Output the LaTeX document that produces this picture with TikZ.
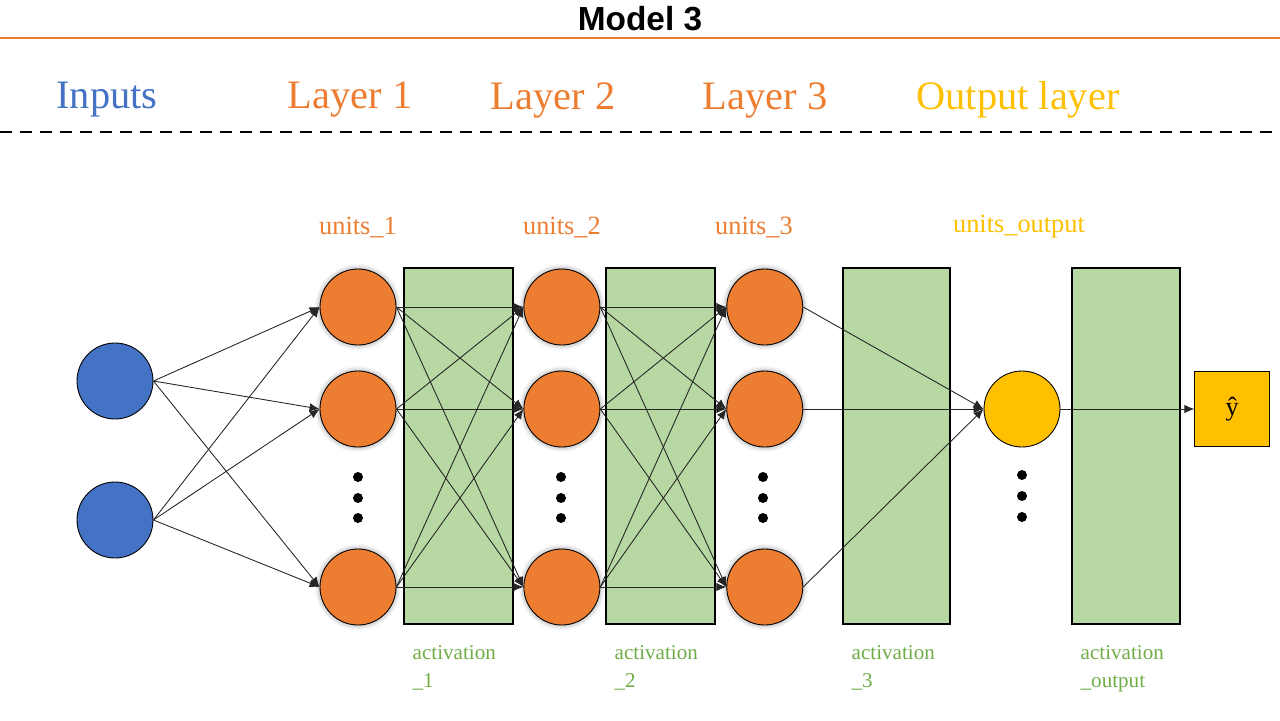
\documentclass[tikz,border=0pt]{standalone}
\usepackage{fontspec}
\setmainfont{Liberation Serif}
\newfontfamily\titlefont{Liberation Sans}
\usetikzlibrary{positioning, arrows.meta, shadows.blur, backgrounds}

\definecolor{inblue}{HTML}{4472C4}
\definecolor{layorange}{HTML}{ED7D31}
\definecolor{outgold}{HTML}{FFC000}
\definecolor{actgreen}{HTML}{B7D7A3}
\definecolor{txtgreen}{HTML}{70AD47}

\tikzset{%
  neuron/.style  = {draw, circle, minimum size=1.52cm, inner sep=0pt, line width=0.5pt},
  inp/.style     = {neuron, fill=inblue},
  hidden/.style  = {neuron, fill=layorange, blur shadow={shadow xshift=0pt,
      shadow yshift=0pt, shadow blur radius=3pt, shadow opacity=45}},
  outn/.style    = {neuron, fill=outgold},
  actbox/.style  = {draw, rectangle, line width=0.6pt, fill=actgreen,
      minimum height=7.12cm, minimum width=2.18cm},
  yhat/.style    = {draw, rectangle, fill=outgold, minimum size=1.5cm,
      font=\fontsize{15}{18}\selectfont},
  dot/.style     = {circle, fill=black, minimum size=0.2cm, inner sep=0pt},
  header/.style  = {font=\fontsize{23}{28}\selectfont},
  unitlbl/.style = {font=\fontsize{15}{18}\selectfont},
  actlbl/.style  = {font=\fontsize{12}{16}\selectfont, text=txtgreen, align=left}
}
\tikzstyle{arrow} = [draw, line width=0.5pt, black!85, -{Latex[length=2mm, width=1.7mm]}]

\begin{document}
\begin{tikzpicture}

\useasboundingbox (0,0) rectangle (25.6,-14.4);

% title and rules
\node [font=\titlefont\bfseries\fontsize{19}{22}\selectfont] (title) at (12.8,-0.38) {Model 3};
\draw [layorange, line width=1.1pt] (0,-0.76) -- (25.6,-0.76);
\draw [black, line width=1.7pt, dash pattern=on 0.24cm off 0.16cm] (0,-2.64) -- (25.6,-2.64);

\node [header, text=inblue] (h_in) at (2.14,-2.0) {Inputs};
\node [header, text=layorange] (h_l1) at (7.0,-2.0) {Layer 1};
\node [header, text=layorange] (h_l2) at (11.06,-2.0) {Layer 2};
\node [header, text=layorange] (h_l3) at (15.3,-2.0) {Layer 3};
\node [header, text=outgold] (h_out) at (20.36,-2.0) {Output layer};

% neurons
\node [inp] (x_1) at (2.3,-7.62) {};
\node [inp] (x_2) at (2.3,-10.4) {};

\node [hidden] (l1_a) at (7.16,-6.14) {};
\node [hidden] (l1_b) at (7.16,-8.18) {};
\node [hidden] (l1_c) at (7.16,-11.74) {};

\node [hidden, right=2.54cm of l1_a] (l2_a) {};
\node [hidden, right=2.54cm of l1_b] (l2_b) {};
\node [hidden, right=2.54cm of l1_c] (l2_c) {};

\node [hidden, right=2.52cm of l2_a] (l3_a) {};
\node [hidden, right=2.52cm of l2_b] (l3_b) {};
\node [hidden, right=2.52cm of l2_c] (l3_c) {};

\node [outn] (out) at (20.44,-8.18) {};
\node [yhat, right=2.68cm of out] (y) {ŷ};

\node [dot] (d1_a) at (7.16,-9.54) {};
\node [dot] (d1_b) at (7.16,-9.96) {};
\node [dot] (d1_c) at (7.16,-10.36) {};
\node [dot] (d2_a) at (11.22,-9.54) {};
\node [dot] (d2_b) at (11.22,-9.96) {};
\node [dot] (d2_c) at (11.22,-10.36) {};
\node [dot] (d3_a) at (15.26,-9.54) {};
\node [dot] (d3_b) at (15.26,-9.96) {};
\node [dot] (d3_c) at (15.26,-10.36) {};
\node [dot] (d4_a) at (20.44,-9.50) {};
\node [dot] (d4_b) at (20.44,-9.92) {};
\node [dot] (d4_c) at (20.44,-10.34) {};

\node [unitlbl, text=layorange, above=0.49cm of l1_a] (u_1) {units\_1};
\node [unitlbl, text=layorange, above=0.49cm of l2_a] (u_2) {units\_2};
\node [unitlbl, text=layorange] (u_3) at (15.08,-4.54) {units\_3};
\node [unitlbl, text=outgold] (u_out) at (20.38,-4.54) {units\_output};

% connections
\draw [arrow] (x_1.east) -- (l1_a.west);
\draw [arrow] (x_1.east) -- (l1_b.west);
\draw [arrow] (x_1.east) -- (l1_c.west);
\draw [arrow] (x_2.east) -- (l1_a.west);
\draw [arrow] (x_2.east) -- (l1_b.west);
\draw [arrow] (x_2.east) -- (l1_c.west);

\draw [arrow] (l1_a.east) -- (l2_a.west);
\draw [arrow] (l1_a.east) -- (l2_b.west);
\draw [arrow] (l1_a.east) -- (l2_c.west);
\draw [arrow] (l1_b.east) -- (l2_a.west);
\draw [arrow] (l1_b.east) -- (l2_b.west);
\draw [arrow] (l1_b.east) -- (l2_c.west);
\draw [arrow] (l1_c.east) -- (l2_a.west);
\draw [arrow] (l1_c.east) -- (l2_b.west);
\draw [arrow] (l1_c.east) -- (l2_c.west);

\draw [arrow] (l2_a.east) -- (l3_a.west);
\draw [arrow] (l2_a.east) -- (l3_b.west);
\draw [arrow] (l2_a.east) -- (l3_c.west);
\draw [arrow] (l2_b.east) -- (l3_a.west);
\draw [arrow] (l2_b.east) -- (l3_b.west);
\draw [arrow] (l2_b.east) -- (l3_c.west);
\draw [arrow] (l2_c.east) -- (l3_a.west);
\draw [arrow] (l2_c.east) -- (l3_b.west);
\draw [arrow] (l2_c.east) -- (l3_c.west);

\draw [arrow] (l3_a.east) -- (out.west);
\draw [arrow] (l3_b.east) -- (out.west);
\draw [arrow] (l3_c.east) -- (out.west);

\draw [arrow] (out.east) -- (y.west);

% activation boxes, behind the connections
\begin{pgfonlayer}{background}
\node [actbox] (act_1) at (9.17,-8.92) {};
\node [actbox] (act_2) at (13.21,-8.92) {};
\node [actbox, minimum width=2.14cm] (act_3) at (17.93,-8.92) {};
\node [actbox, minimum width=2.16cm] (act_4) at (22.52,-8.92) {};
\end{pgfonlayer}

\node [actlbl, below right=0.3cm and 0.06cm of act_1.south west] (a_1) {activation\\\_1};
\node [actlbl, below right=0.3cm and 0.06cm of act_2.south west] (a_2) {activation\\\_2};
\node [actlbl, below right=0.3cm and 0.06cm of act_3.south west] (a_3) {activation\\\_3};
\node [actlbl, below right=0.3cm and 0.06cm of act_4.south west] (a_4) {activation\\\_output};

\end{tikzpicture}
\end{document}
